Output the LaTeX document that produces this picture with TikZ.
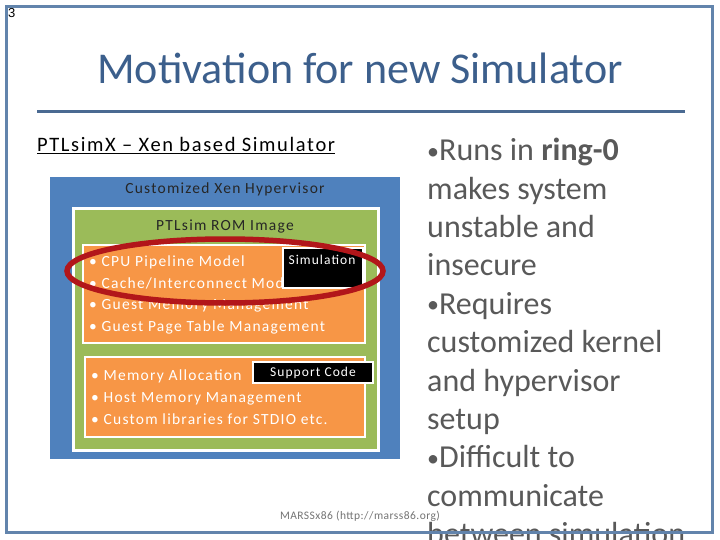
\documentclass[tikz,border=0pt]{standalone}
\usepackage{fontspec}
\setmainfont{Carlito}
\newfontfamily\slidefont[LetterSpace=8]{Carlito}
\newfontfamily\arialfont{Liberation Sans}
\usetikzlibrary{shapes.geometric}

\definecolor{slideblue}{RGB}{98,132,172}
\definecolor{titleblue}{RGB}{60,95,140}
\definecolor{ruleblue}{RGB}{74,106,146}
\definecolor{xenblue}{RGB}{79,129,189}
\definecolor{romgreen}{RGB}{155,187,89}
\definecolor{modorange}{RGB}{247,150,70}
\definecolor{ringred}{RGB}{178,22,26}
\definecolor{bodygray}{RGB}{89,89,89}

\newcommand{\smallbullet}{{\fontsize{24}{24}\selectfont\raisebox{1.5pt}{•}}}

\begin{document}
\begin{tikzpicture}[
  x=1pt, y=-1pt,
  title/.style={inner sep=0, text=titleblue, font=\fontsize{44}{52}\selectfont},
  rule/.style={line width=3pt, draw=ruleblue},
  layer/.style={draw=white, line width=2.5pt},
  boxlabel/.style={inner sep=0, text=black!85, font=\slidefont\fontsize{15.5}{18}\selectfont},
  items/.style={inner sep=0, align=left, text=white, font=\slidefont\fontsize{15.5}{21.7}\selectfont},
  tag/.style={fill=black, draw=white, line width=1.5pt, inner sep=0, text=white, font=\slidefont\fontsize{13.5}{15}\selectfont},
  ring/.style={ellipse, draw=ringred, line width=5.5pt},
  bodytext/.style={inner sep=0, align=left, text=bodygray, font=\fontsize{32}{38.4}\selectfont},
  note/.style={inner sep=0, text=black!55, font=\fontsize{11.5}{13}\selectfont\addfontfeatures{LetterSpace=4}},
  frame/.style={line width=3pt, draw=slideblue}
]
\useasboundingbox (0,0) rectangle (720,540);
\clip (0,0) rectangle (720,540);

\node[title] (title) at (360,68) {Motivation for new Simulator};
\draw[rule] (37,112) -- (685,112);

\node[inner sep=0, anchor=base west, font=\slidefont\fontsize{20.5}{24}\selectfont] (sub) at (37,152)
  {\underline{PTLsimX – Xen based Simulator}};

\node[fill=xenblue, minimum width=350pt, minimum height=282pt] (xen) at (225,318) {};
\node[boxlabel] (xenlabel) at (225,189) {Customized Xen Hypervisor};

\node[layer, fill=romgreen, line width=3pt, minimum width=305pt, minimum height=241pt] (rom) at (225.5,329.5) {};
\node[boxlabel] (romlabel) at (225,226) {PTLsim ROM Image};

\node[layer, fill=modorange, minimum width=282pt, minimum height=98pt] (simpart) at (224,294) {};
\node[items, anchor=west] (simitems) at (89,295)
  {• CPU Pipeline Model\\• Cache/Interconnect Model\\• Guest Memory Management\\• Guest Page Table Management};
\node[tag, minimum width=80pt, minimum height=40pt] (simtag) at (323,268) {};
\node[inner sep=0, text=white, font=\slidefont\fontsize{13.5}{15}\selectfont] (simtext) at (322,260) {Simulation};

\node[layer, fill=modorange, minimum width=280pt, minimum height=80pt] (suppart) at (225,397) {};
\node[items, anchor=west] (supitems) at (91,397)
  {• Memory Allocation\\• Host Memory Management\\• Custom libraries for STDIO etc.};
\node[tag, minimum width=120pt, minimum height=21pt] (suptag) at (313,372.5) {Support Code};

\node[ring, minimum width=316pt, minimum height=64pt] (focus) at (225,271) {};

\node[bodytext, anchor=north west] (why) at (427,138)
  {\smallbullet Runs in \textbf{ring-0}\\makes system\\unstable and\\insecure\\\smallbullet Requires\\customized kernel\\and hypervisor\\setup\\\smallbullet Difficult to\\communicate\\between simulation};

\node[note] (credit) at (360,516) {MARSSx86 (http://marss86.org)};

\draw[frame] (6.5,6.5) rectangle (712.5,532.5);
\node[inner sep=0, anchor=north west, font=\arialfont\fontsize{13}{15}\selectfont] (pagenum) at (8,8) {3};
\end{tikzpicture}
\end{document}
